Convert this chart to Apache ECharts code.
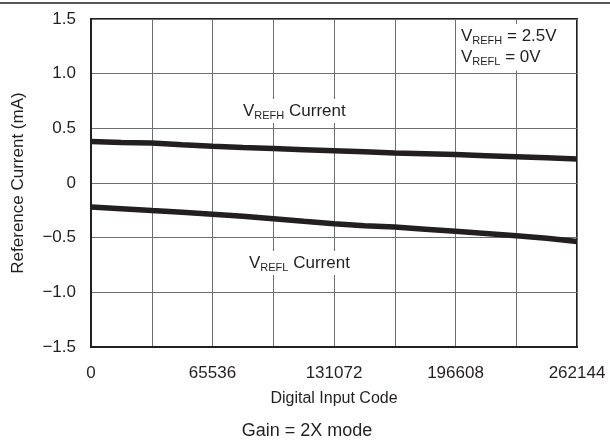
<!DOCTYPE html>
<html><head><meta charset="utf-8">
<script src="https://cdn.jsdelivr.net/npm/echarts@6/dist/echarts.min.js"></script>
<style>html,body{margin:0;padding:0;background:#fff}#c{width:610px;height:440px}</style>
</head><body><div id="c"></div>
<script>
const codes = [0, 16384, 32768, 49152, 65536, 81920, 98304, 114688, 131072, 147456, 163840, 180224, 196608, 212992, 229376, 245760, 262144];
const vrefhCurrent = [0.38, 0.37, 0.365, 0.35, 0.336, 0.325, 0.315, 0.305, 0.295, 0.285, 0.275, 0.268, 0.26, 0.25, 0.24, 0.23, 0.22];
const vreflCurrent = [-0.22, -0.235, -0.252, -0.268, -0.285, -0.305, -0.327, -0.35, -0.372, -0.39, -0.403, -0.422, -0.442, -0.462, -0.482, -0.505, -0.535];
const yTicks = { min: -1.5, max: 1.5, step: 0.5 };
const xTicks = { min: 0, max: 262144, step: 32768, labelStep: 65536 };

const font = '"Liberation Sans", Arial, Helvetica, sans-serif';
const ink = '#231f20';
const chart = echarts.init(document.getElementById('c'), null, { renderer: 'canvas' });
const fmtY = v => {
  if (Math.abs(v) < 1e-9) return '0';
  const s = Math.abs(v).toFixed(1);
  return (v < 0 ? '\u2212' : '') + s;
};
const sub = { fontSize: 11, fontFamily: font, fill: ink, color: ink, verticalAlign: 'bottom', lineHeight: 16 };
const main = { fontSize: 17, fontFamily: font, fill: ink, color: ink, lineHeight: 20 };
function lbl(text, x, y, pad) {
  return { type: 'text', x: x, y: y, z: 10,
    style: { text: text, backgroundColor: '#fff', padding: pad || [0, 2], verticalAlign: 'middle',
      fontSize: 17, fontFamily: font, fill: ink, rich: { s: sub, m: main } } };
}

chart.setOption({
  animation: false,
  backgroundColor: '#fff',
  grid: { left: 91, right: 33, top: 19, bottom: 93, show: true, borderColor: ink, borderWidth: 2, backgroundColor: 'transparent' },
  xAxis: {
    type: 'value', min: xTicks.min, max: xTicks.max, interval: xTicks.step,
    name: 'Digital Input Code', nameLocation: 'middle', nameGap: 44,
    nameTextStyle: { fontSize: 16, fontFamily: font, color: ink },
    axisLine: { show: true, onZero: false, lineStyle: { color: ink, width: 2 } },
    axisTick: { show: false },
    axisLabel: { margin: 18, fontSize: 17, fontFamily: font, color: ink,
      formatter: v => (v % xTicks.labelStep === 0 ? String(v) : '') },
    splitLine: { show: true, lineStyle: { color: '#6d6e71', width: 1 } }
  },
  yAxis: {
    type: 'value', min: yTicks.min, max: yTicks.max, interval: yTicks.step,
    name: 'Reference Current (mA)', nameLocation: 'middle', nameGap: 64,
    nameTextStyle: { fontSize: 17, fontFamily: font, color: ink },
    axisLine: { show: true, onZero: false, lineStyle: { color: ink, width: 2 } },
    axisTick: { show: false },
    axisLabel: { margin: 15, fontSize: 17, fontFamily: font, color: ink, formatter: fmtY },
    splitLine: { show: true, lineStyle: { color: '#6d6e71', width: 1 } }
  },
  series: [
    { name: 'VREFH', type: 'line', data: codes.map((c, i) => [c, vrefhCurrent[i]]), showSymbol: false,
      lineStyle: { color: ink, width: 5.5 }, z: 3 },
    { name: 'VREFL', type: 'line', data: codes.map((c, i) => [c, vreflCurrent[i]]), showSymbol: false,
      lineStyle: { color: ink, width: 5.5 }, z: 3 }
  ],
  graphic: [
    { type: 'line', shape: { x1: 0, y1: 3, x2: 610, y2: 3 }, style: { stroke: ink, lineWidth: 1.5 } },
    lbl('{m|V}{s|REFH}{m| Current}', 241, 111, [2, 2]),
    lbl('{m|V}{s|REFL}{m| Current}', 247, 263, [2, 2]),
    lbl('{m|V}{s|REFH}{m| = 2.5V}', 459, 35, [2, 2, 0, 2]),
    lbl('{m|V}{s|REFL}{m| = 0V}', 459, 58, [2, 2, 3, 2]),
    { type: 'text', x: 307, y: 431, z: 10, style: { text: 'Gain = 2X mode', fontSize: 18, fontFamily: font, fill: ink,
        align: 'center', verticalAlign: 'middle' } }
  ]
});
</script></body></html>
